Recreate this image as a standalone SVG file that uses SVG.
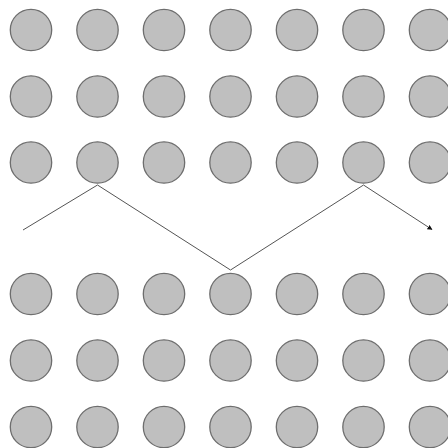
<svg xmlns="http://www.w3.org/2000/svg" width="448" height="448" viewBox="0 0 448 448">
<defs>
<style>
.dot{fill:#bfbfbf;stroke:#6e6e6e;stroke-width:1.3}
.zig{fill:none;stroke:#555;stroke-width:1}
</style>
<marker id="ah" viewBox="0 0 10 10" refX="9" refY="5" markerWidth="5" markerHeight="5" orient="auto" markerUnits="userSpaceOnUse">
<path d="M0,0 L10,5 L0,10 z" fill="#111"/>
</marker>
<circle id="c" r="20.7" class="dot"/>
</defs>
<rect width="448" height="448" fill="#fff"/>
<g id="top-rows">
<g id="r1">
<use href="#c" x="31" y="30"/><use href="#c" x="97.5" y="30"/><use href="#c" x="164" y="30"/><use href="#c" x="230.5" y="30"/><use href="#c" x="297" y="30"/><use href="#c" x="363.5" y="30"/><use href="#c" x="430" y="30"/>
</g>
<g id="r2">
<use href="#c" x="31" y="96.5"/><use href="#c" x="97.5" y="96.5"/><use href="#c" x="164" y="96.5"/><use href="#c" x="230.5" y="96.5"/><use href="#c" x="297" y="96.5"/><use href="#c" x="363.5" y="96.5"/><use href="#c" x="430" y="96.5"/>
</g>
<g id="r3">
<use href="#c" x="31" y="162.5"/><use href="#c" x="97.5" y="162.5"/><use href="#c" x="164" y="162.5"/><use href="#c" x="230.5" y="162.5"/><use href="#c" x="297" y="162.5"/><use href="#c" x="363.5" y="162.5"/><use href="#c" x="430" y="162.5"/>
</g>
</g>
<g id="bottom-rows">
<g id="r4">
<use href="#c" x="31" y="294"/><use href="#c" x="97.5" y="294"/><use href="#c" x="164" y="294"/><use href="#c" x="230.5" y="294"/><use href="#c" x="297" y="294"/><use href="#c" x="363.5" y="294"/><use href="#c" x="430" y="294"/>
</g>
<g id="r5">
<use href="#c" x="31" y="360.5"/><use href="#c" x="97.5" y="360.5"/><use href="#c" x="164" y="360.5"/><use href="#c" x="230.5" y="360.5"/><use href="#c" x="297" y="360.5"/><use href="#c" x="363.5" y="360.5"/><use href="#c" x="430" y="360.5"/>
</g>
<g id="r6">
<use href="#c" x="31" y="427"/><use href="#c" x="97.5" y="427"/><use href="#c" x="164" y="427"/><use href="#c" x="230.5" y="427"/><use href="#c" x="297" y="427"/><use href="#c" x="363.5" y="427"/><use href="#c" x="430" y="427"/>
</g>
</g>
<g id="connectors">
<polyline class="zig" points="23,230 97.5,185 230.5,270 363.5,185 432,229.5" marker-end="url(#ah)"/>
</g>
</svg>
